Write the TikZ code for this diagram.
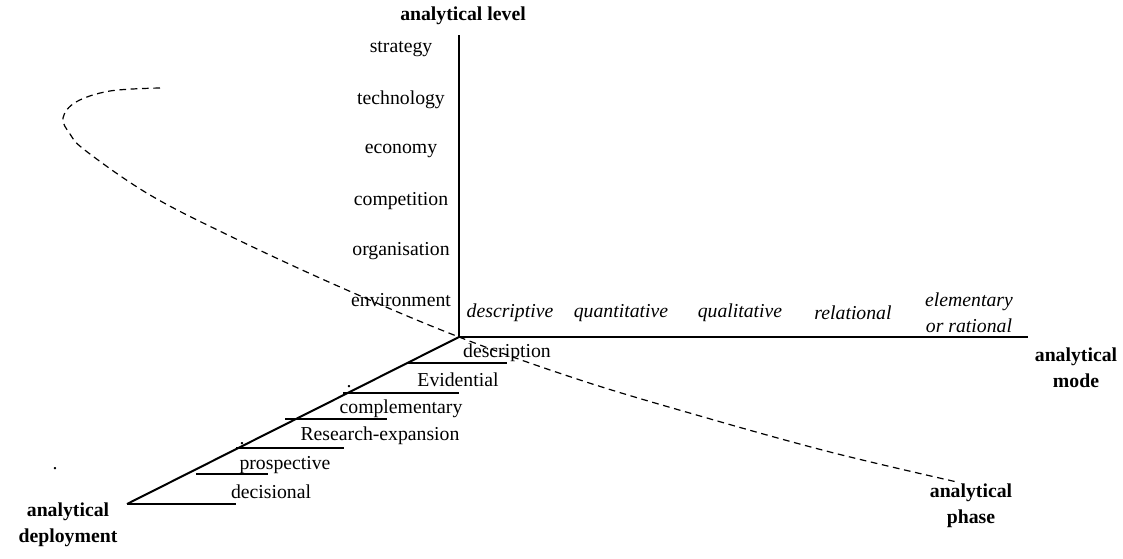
\documentclass[tikz,border=0pt]{standalone}
\usepackage{fontspec}
\setmainfont{Liberation Serif}

\begin{document}
\begin{tikzpicture}[x=0.75pt,y=-0.75pt,
  every node/.style={font=\fontsize{14.8}{19.5}\selectfont, inner sep=0pt},
  axislabel/.style={font=\fontsize{14.8}{19.5}\selectfont\bfseries, align=center},
  modelabel/.style={font=\fontsize{14.8}{19.5}\selectfont\itshape, align=center},
  thickrule/.style={black, line width=2.2pt},
  thinrule/.style={black, line width=0.9pt}]
\useasboundingbox (0,0) rectangle (1123,559);

% the three axes
\coordinate (O) at (459,337);
\coordinate (levelend) at (459,35);
\coordinate (modeend) at (1028,337);
\coordinate (deployend) at (127,504);
\draw[thickrule] (O) -- (levelend);
\draw[thickrule] (O) -- (modeend);
\draw[black, line width=1.5pt] (O) -- (deployend);

\node[axislabel] (level) at (463,16) {analytical level};
\node[axislabel] (mode) at (1076,368) {analytical\\mode};
\node[axislabel] (phase) at (971,506) {analytical\\phase};
\node[axislabel] (deploy) at (68,525) {analytical\\deployment};

% analytical level
\node (strategy) at (401,49) {strategy};
\node (technology) at (401,100) {technology};
\node (economy) at (401,151) {economy};
\node (competition) at (401,201) {competition};
\node (organisation) at (401,251) {organisation};
\node (environment) at (401,300) {environment};

% analytical mode
\node[modelabel] (descriptive) at (510,313) {descriptive};
\node[modelabel] (quantitative) at (621,313) {quantitative};
\node[modelabel] (qualitative) at (740,313) {qualitative};
\node[modelabel] (relational) at (853,313) {relational};
\node[modelabel] (elementary) at (969,313) {elementary\\or rational};

% analytical deployment, steps along the diagonal
\draw[thinrule] (407,363) -- (507,363);
\draw[thickrule] (343,393) -- (459,393);
\draw[thinrule] (285,419) -- (387,419);
\draw[thickrule] (236,448) -- (344,448);
\draw[thinrule] (196,474) -- (268,474);
\draw[thickrule] (127,504) -- (236,504);

\node (description) at (507,353) {description};
\node (evidential) at (458,380) {Evidential};
\node (complementary) at (401,409) {complementary};
\node (expansion) at (380,436) {Research-expansion};
\node (prospective) at (285,465) {prospective};
\node (decisional) at (271,492) {decisional};

\node[anchor=base] (dota) at (349,387) {.};
\node[anchor=base] (dotb) at (242,444) {.};
\node[anchor=base] (dotc) at (55,469) {.};

% analytical phase
\draw[black, line width=0.9pt, dash pattern=on 5pt off 3.5pt]
  plot[smooth, tension=0.6] coordinates {(160,88) (110,91) (76,102) (63,118) (70,134)
  (86,151) (150,195) (232,237) (340,287) (O) (580,380) (700,416) (830,452) (957,482)};

\end{tikzpicture}
\end{document}
